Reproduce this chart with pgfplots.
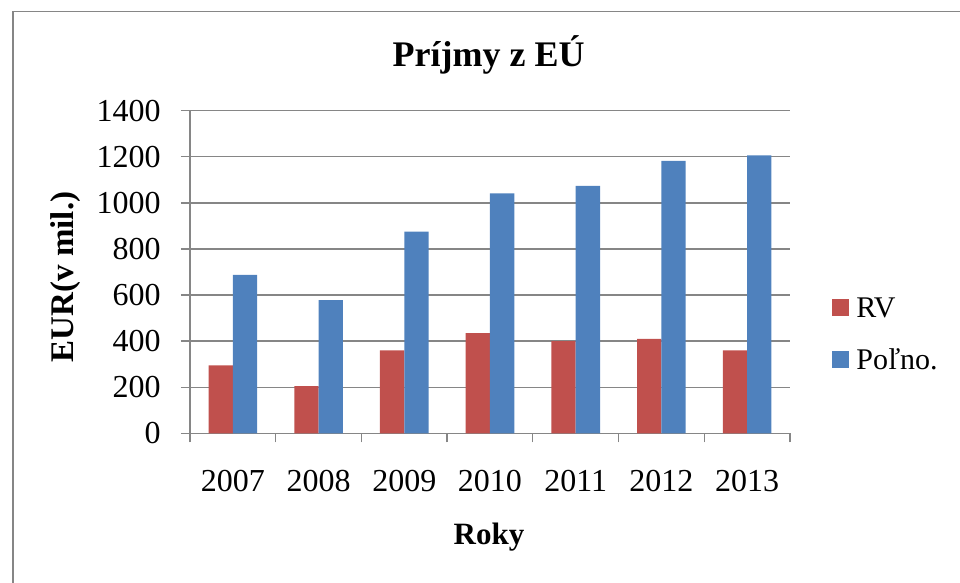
\documentclass[border=0pt]{standalone}
\usepackage{fontspec}
\setmainfont{Liberation Serif}
\usepackage{pgfplots}
\pgfplotsset{compat=1.18}
\definecolor{rvred}{HTML}{C0504D}
\definecolor{plblue}{HTML}{4F81BD}
\definecolor{gridgray}{HTML}{868686}
\begin{document}
\begin{tikzpicture}
\path[use as bounding box] (0,0) rectangle (480pt,291.5pt);
\draw[gridgray, line width=0.8pt] (6.5pt,-2pt) -- (6.5pt,285.75pt) -- (482pt,285.75pt);
\begin{axis}[
  at={(95pt,74.85pt)}, anchor=south west,
  scale only axis, width=300pt, height=161.3pt,
  ybar=0pt, bar width=12.15pt,
  ymin=0, ymax=1400, ytick={0,200,...,1400},
  xmin=-0.5, xmax=6.5,
  xtick={0,...,6}, xticklabels={2007,2008,2009,2010,2011,2012,2013},
  minor xtick={-0.5,0.5,...,6.5},
  axis x line*=bottom, axis y line*=left,
  axis line style={gridgray, line width=0.65pt, -},
  tick align=outside,
  major tick length=4.5pt, minor tick length=4.5pt,
  major x tick style={draw=none},
  minor x tick style={gridgray, line width=0.65pt},
  ytick style={gridgray, line width=0.65pt},
  ymajorgrids, major grid style={gridgray, line width=0.65pt},
  /pgf/number format/assume math mode=true,
  /pgf/number format/1000 sep={},
  ticklabel style={font=\fontsize{16}{19}\selectfont},
  yticklabel style={anchor=east, inner sep=0pt, xshift=-10pt},
  xticklabel style={anchor=base, inner sep=0pt, yshift=-24.7pt},
  legend image code/.code={\fill[#1] (0pt,-3pt) rectangle (8.5pt,5.5pt);},
  legend style={at={(1.07,0.3016)}, anchor=west, draw=none, fill=none,
    inner sep=0pt, font=\fontsize{15}{18}\selectfont,
    nodes={inner sep=0pt, text height=11pt, text depth=3pt},
    row sep=12pt, column sep=3.5pt},
  legend cell align=left,
]
\addplot[fill=rvred, draw=none] coordinates {(0,295) (1,205) (2,360) (3,435) (4,400) (5,410) (6,360)};
\addplot[fill=plblue, draw=none] coordinates {(0,688) (1,578) (2,875) (3,1041) (4,1074) (5,1182) (6,1206)};
\legend{RV, Poľno.}
\end{axis}
\node[anchor=base, font=\bfseries\fontsize{18}{22}\selectfont, inner sep=0pt] at (244.35pt,258.15pt) {Príjmy z EÚ};
\node[anchor=base, font=\bfseries\fontsize{15.5}{19}\selectfont, inner sep=0pt] at (244.5pt,19pt) {Roky};
\node[anchor=base, rotate=90, font=\bfseries\fontsize{16.5}{20}\selectfont, inner sep=0pt] at (36.5pt,153pt) {EUR(v mil.)};
\end{tikzpicture}
\end{document}
